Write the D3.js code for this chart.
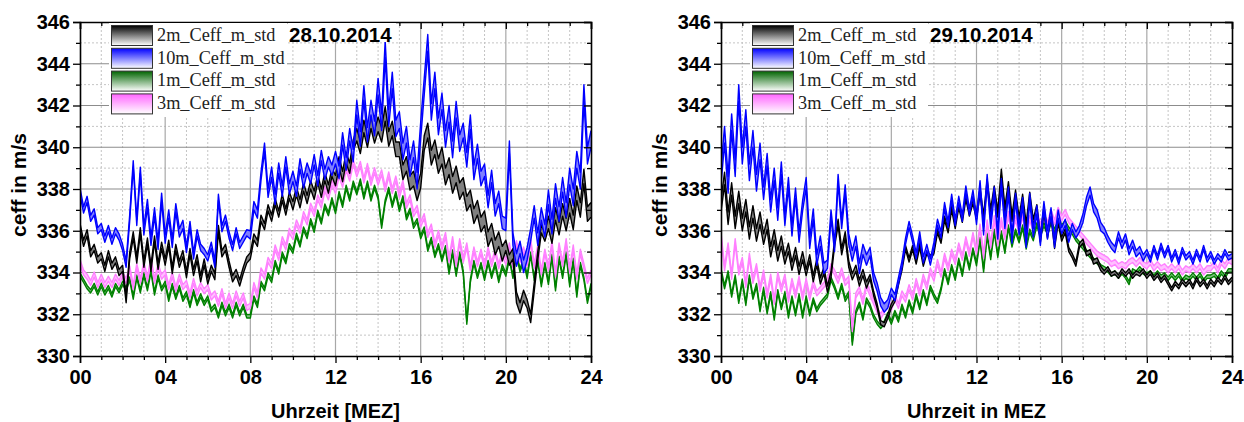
<!DOCTYPE html>
<html>
<head>
<meta charset="utf-8">
<script src="https://cdn.jsdelivr.net/npm/d3@7"></script>
<style>
  body { margin: 0; background: #fff; }
  svg { display: block; }
</style>
</head>
<body>
<svg id="chart" width="1244" height="422"></svg>
<script>
// Effective sound speed per measurement height, 10-minute means, 00:00 .. 24:00 (MEZ)
// each row holds one hour (six values), the last value is 24:00
const hours = d3.range(145).map(i => i / 6);

const yTickValues = [330, 332, 334, 336, 338, 340, 342, 344, 346];
const xTickValues = [0, 4, 8, 12, 16, 20, 24];
const xTickLabels = ["00", "04", "08", "12", "16", "20", "24"];
const seriesNames = ["2m_Ceff_m_std", "10m_Ceff_m_std", "1m_Ceff_m_std", "3m_Ceff_m_std"];
const dayTitles = ["28.10.2014", "29.10.2014"];
const xTitles = ["Uhrzeit [MEZ]", "Uhrzeit in MEZ"];
const yTitle = "ceff in m/s";

// ---- 28.10.2014 ----
const c10m_d1 = [
  337.9, 337.0, 337.5, 336.6, 336.9, 336.0,
  336.2, 335.6, 336.1, 335.5, 336.0, 335.7,
  335.2, 334.4, 336.6, 339.2, 336.4, 338.9,
  336.0, 337.3, 335.5, 336.9, 335.3, 337.6,
  335.6, 336.8, 335.4, 337.1, 335.9, 336.3,
  335.1, 336.3, 334.8, 335.9, 335.2, 335.0,
  334.7, 335.3, 334.4, 337.6, 336.1, 336.6,
  335.8, 335.2, 336.0, 335.3, 335.6, 335.9,
  335.8, 337.2, 336.8, 338.6, 340.0, 337.8,
  338.8, 337.5, 339.0, 337.9, 339.3, 338.0,
  338.6, 337.9, 339.2, 338.3, 339.0, 338.5,
  339.4, 338.4, 339.6, 338.7, 339.3, 338.9,
  339.5, 338.8, 340.4, 339.2, 340.6, 339.6,
  341.9, 340.4, 342.6, 340.6, 341.9, 340.9,
  342.9, 341.2, 344.7, 341.4, 343.2, 340.9,
  341.3, 339.8, 340.6, 339.0, 339.9, 338.4,
  340.8, 342.9, 345.0, 341.7, 343.2, 341.0,
  342.2, 340.4, 341.6, 339.9, 341.8, 340.2,
  340.8, 339.4, 341.2, 338.8, 339.8, 338.5,
  338.9, 337.4, 338.6, 337.0, 337.6, 336.4,
  336.3, 340.0, 335.6, 334.6, 335.2, 334.3,
  334.9, 335.8, 336.9, 335.6, 336.8, 336.0,
  337.6, 336.2, 337.9, 336.8, 338.2, 337.0,
  338.6, 337.6, 339.4, 338.4, 342.6, 339.6,
  340.4
];
const c2m_d1 = [
  336.2, 335.4, 335.9, 334.9, 335.2, 334.6,
  334.8, 334.2, 334.9, 334.3, 334.6, 334.0,
  334.2, 332.7, 334.8, 335.8, 334.6, 336.0,
  334.4, 335.5, 334.2, 335.6, 334.3, 335.3,
  334.5, 335.4, 334.1, 335.2, 334.4, 334.9,
  333.9, 335.0, 334.0, 334.7, 333.7, 334.5,
  333.6, 334.2, 333.8, 336.1, 334.9, 335.2,
  334.4, 333.7, 334.0, 333.5, 334.1, 334.6,
  334.8, 335.7, 335.4, 336.6, 336.2, 337.1,
  336.6, 337.4, 336.8, 337.6, 336.9, 337.7,
  337.2, 337.9, 337.3, 338.1, 337.5, 338.2,
  337.7, 338.5, 337.8, 338.6, 338.0, 338.8,
  338.4, 339.3, 338.6, 339.5, 339.0, 340.1,
  340.6, 340.0, 341.0, 340.3, 341.2, 340.5,
  341.1, 340.6, 341.6, 340.4, 340.9, 339.9,
  339.9, 338.8, 339.2, 338.3, 338.5, 337.8,
  338.4, 340.2, 340.8, 339.5, 340.0, 339.1,
  339.6, 338.6, 339.1, 338.2, 338.7, 337.9,
  338.2, 337.3, 337.6, 336.7, 337.1, 336.3,
  336.6, 335.6, 336.0, 335.2, 335.6, 334.9,
  335.3, 334.6, 334.9, 332.8, 332.3, 332.9,
  332.5, 331.8, 333.3, 334.8, 336.1, 335.7,
  336.4, 335.7, 336.8, 336.1, 337.0, 336.3,
  337.2, 336.4, 337.8, 337.0, 338.6, 336.8,
  337.0
];
const c3m_d1 = [
  334.5, 334.0, 333.8, 333.5, 333.9, 333.4,
  333.8, 333.4, 333.7, 333.4, 333.8, 333.5,
  333.9, 333.6, 334.2, 333.3, 334.3, 333.6,
  334.4, 333.7, 334.6, 333.6, 334.3, 333.8,
  334.0, 333.3, 333.9, 333.2, 333.8, 333.3,
  333.5, 332.9, 333.6, 333.0, 333.4, 333.1,
  333.3, 332.8, 333.0, 332.5, 333.1, 332.4,
  332.9, 332.4, 333.0, 332.5, 332.9, 332.3,
  332.4, 333.4, 332.9, 334.1, 333.8, 334.6,
  334.3, 335.2, 334.7, 335.6, 335.2, 336.0,
  335.7, 336.4, 336.0, 336.8, 336.4, 337.2,
  336.8, 337.6, 337.2, 338.0, 337.6, 338.3,
  337.9, 338.7, 338.2, 339.0, 338.5, 339.3,
  338.7, 339.2, 338.4, 339.1, 338.3, 338.9,
  338.3, 338.8, 338.0, 338.7, 337.9, 338.5,
  337.7, 338.3, 337.2, 337.6, 336.8, 337.1,
  336.3, 336.7, 335.8, 336.2, 335.3, 335.9,
  335.2, 335.8, 334.6, 335.6, 334.4, 335.5,
  334.6, 335.3, 334.2, 335.1, 334.4, 335.0,
  334.3, 335.1, 334.4, 335.0, 334.3, 334.9,
  334.5, 335.3, 334.3, 335.4, 334.6, 335.1,
  334.4, 335.5, 334.3, 335.2, 334.0, 335.0,
  334.2, 335.4, 333.9, 335.3, 334.4, 335.5,
  334.1, 335.2, 333.8, 335.0, 334.3, 333.6,
  334.0
];
const c1m_d1 = [
  333.9, 333.6, 333.3, 333.1, 333.4, 333.0,
  333.4, 333.0, 333.3, 332.9, 333.4, 333.1,
  333.5, 333.2, 333.7, 332.8, 333.8, 333.1,
  333.9, 333.2, 334.1, 333.0, 333.8, 333.2,
  333.5, 332.7, 333.4, 332.8, 333.3, 332.7,
  333.0, 332.4, 333.1, 332.5, 332.9, 332.5,
  332.8, 332.2, 332.4, 331.9, 332.5, 332.0,
  332.4, 331.9, 332.5, 332.0, 332.4, 331.9,
  331.9, 332.8, 332.4, 333.5, 333.2, 333.9,
  333.6, 334.5, 334.0, 334.9, 334.5, 335.3,
  335.0, 335.8, 335.3, 336.1, 335.7, 336.5,
  336.0, 336.9, 336.4, 337.2, 336.8, 337.5,
  336.9, 337.8, 337.2, 338.1, 337.5, 338.3,
  337.8, 338.4, 337.6, 338.3, 337.5, 338.1,
  337.6, 336.2, 337.4, 338.0, 337.2, 337.8,
  337.0, 337.6, 336.6, 337.0, 336.2, 336.5,
  335.7, 336.1, 335.1, 335.6, 334.8, 335.3,
  334.6, 335.2, 334.0, 335.0, 333.9, 334.9,
  334.0, 331.6, 333.6, 334.5, 333.8, 334.4,
  333.7, 334.5, 333.8, 334.4, 333.6, 334.3,
  333.9, 334.7, 333.8, 334.9, 334.1, 334.6,
  333.8, 334.9, 333.7, 334.6, 333.4, 334.4,
  333.5, 334.8, 333.2, 334.7, 333.8, 334.9,
  333.4, 334.6, 332.9, 334.4, 333.7, 332.6,
  333.4
];
// hourly standard deviations (hour 0 .. 24)
const s2m_d1 = [0.15,0.15,0.15,0.15,0.15,0.15,0.15,0.15,0.15,0.15,0.2,0.2,0.25,0.3,0.35,0.35,0.35,0.4,0.35,0.35,0.25,0.2,0.3,0.35,0.35];
const s10m_d1 = [0.15,0.15,0.15,0.2,0.2,0.15,0.15,0.15,0.2,0.25,0.25,0.25,0.3,0.35,0.4,0.4,0.4,0.4,0.35,0.3,0.3,0.3,0.35,0.4,0.4];

// ---- 29.10.2014 ----
const c10m_d2 = [
  338.6, 340.6, 338.2, 341.2, 339.0, 342.6,
  339.6, 341.4, 338.8, 340.4, 338.3, 339.8,
  337.8, 339.4, 337.2, 338.7, 336.8, 339.0,
  336.5, 338.3, 336.0, 337.8, 335.7, 337.2,
  338.3, 335.4, 336.8, 334.6, 335.5, 334.2,
  334.4, 336.8, 335.2, 338.5, 336.3, 338.0,
  335.6, 334.8, 335.5, 334.2, 335.1, 334.6,
  335.0, 333.8, 333.3, 332.6, 332.3, 332.5,
  333.1, 332.8, 333.6, 334.4, 335.5, 336.3,
  335.6, 334.8, 335.8, 334.6, 335.2, 334.5,
  335.3, 336.4, 335.8, 337.2, 336.3, 337.6,
  336.4, 337.5, 336.6, 338.0, 336.9, 337.8,
  336.5, 338.2, 336.0, 338.5, 336.3, 337.9,
  335.8, 338.3, 336.3, 337.9, 335.6, 337.6,
  336.0, 337.4, 335.4, 337.6, 335.9, 337.0,
  335.5, 337.2, 335.8, 336.9, 335.4, 336.8,
  336.0, 336.4, 335.6, 336.2, 335.8, 336.1,
  336.6, 337.4, 337.9, 337.1, 336.8, 336.2,
  336.0, 335.6, 335.3, 335.1, 335.8, 335.3,
  335.7, 335.0, 335.4, 334.9, 335.1, 334.7,
  335.0, 334.6, 335.2, 334.7, 335.3, 334.8,
  335.2, 334.6, 335.0, 334.5, 335.1, 334.7,
  334.9, 334.5, 335.0, 334.6, 335.2, 334.6,
  334.9, 334.5, 334.8, 334.6, 335.0, 334.7,
  334.8
];
const c2m_d2 = [
  337.2, 338.5, 336.6, 338.0, 336.4, 337.6,
  336.3, 337.2, 335.9, 336.9, 335.8, 336.6,
  335.6, 336.3, 335.0, 335.8, 334.8, 335.5,
  334.6, 335.2, 334.3, 335.0, 334.1, 334.8,
  334.0, 334.7, 333.7, 334.5, 333.6, 334.1,
  333.2, 333.9, 335.4, 336.4, 335.0, 335.8,
  334.4, 333.8, 334.2, 333.5, 334.0, 333.4,
  333.8, 333.0, 332.4, 331.6, 331.5, 331.9,
  332.4, 332.7, 333.5, 334.2, 335.2, 334.6,
  335.2, 334.5, 335.3, 334.4, 335.0, 334.7,
  335.0, 336.0, 335.5, 336.6, 336.0, 337.1,
  336.2, 337.2, 336.5, 337.6, 336.8, 337.4,
  336.7, 337.9, 336.6, 338.3, 336.9, 338.0,
  336.8, 338.8, 337.0, 338.2, 336.6, 337.8,
  336.5, 337.6, 336.2, 337.7, 336.4, 337.1,
  335.6, 337.0, 335.8, 336.8, 335.3, 336.5,
  335.6, 336.0, 335.1, 334.8, 334.4, 335.3,
  335.5, 334.9, 335.0, 334.5, 334.6, 334.2,
  334.0, 334.2, 333.9, 334.0, 333.8, 334.1,
  333.9, 334.1, 333.8, 334.0, 333.9, 334.1,
  333.8, 334.0, 333.7, 333.9, 333.6, 333.8,
  333.5, 333.2, 333.5, 333.3, 333.6, 333.4,
  333.6, 333.3, 333.7, 333.4, 333.6, 333.3,
  333.6, 333.4, 333.7, 333.5, 333.8, 333.5,
  333.7
];
const c3m_d2 = [
  335.8, 334.2, 335.3, 333.8, 335.5, 334.0,
  334.6, 333.4, 334.8, 333.6, 334.3, 333.2,
  334.0, 332.9, 333.8, 332.6, 333.9, 333.2,
  333.8, 332.7, 333.6, 332.9, 333.7, 332.8,
  333.6, 332.8, 333.5, 333.0, 333.2, 333.4,
  333.6, 334.3, 334.0, 333.6, 334.1, 333.5,
  333.7, 331.3, 332.9, 333.2, 332.6, 333.4,
  333.0, 332.6, 332.2, 331.9, 332.2, 332.6,
  332.3, 332.8, 332.4, 333.0, 332.7, 333.3,
  332.8, 333.6, 333.0, 333.8, 333.3, 334.1,
  333.7, 334.5, 333.9, 334.8, 334.2, 335.0,
  334.5, 335.3, 334.7, 335.6, 334.9, 335.8,
  335.0, 336.2, 334.8, 336.4, 335.3, 336.6,
  335.4, 336.5, 335.7, 336.8, 335.9, 336.6,
  336.0, 336.8, 335.8, 336.6, 336.1, 336.9,
  336.2, 336.7, 336.3, 336.9, 336.4, 337.0,
  336.6, 336.9, 336.5, 336.3, 336.1, 335.9,
  335.7, 335.5, 335.3, 335.1, 334.9, 334.8,
  334.7, 334.6, 334.4, 334.5, 334.3, 334.4,
  334.3, 334.5, 334.6, 334.4, 334.6, 334.4,
  334.3, 334.5, 334.2, 334.4, 334.2, 334.3,
  334.1, 334.3, 334.1, 334.3, 334.0, 334.2,
  334.1, 334.3, 334.1, 334.3, 334.0, 334.2,
  334.2, 334.4, 334.1, 334.5, 334.3, 334.6,
  334.5
];
const c1m_d2 = [
  334.1, 333.3, 334.0, 332.9, 333.8, 332.6,
  333.6, 332.5, 333.8, 332.8, 333.4, 332.2,
  333.2, 332.1, 333.0, 331.8, 333.1, 332.3,
  333.0, 331.9, 332.8, 332.0, 332.9, 331.9,
  332.8, 332.0, 332.7, 332.2, 332.5, 332.7,
  332.9, 333.7, 333.3, 332.8, 333.4, 332.7,
  333.0, 330.6, 332.1, 332.5, 331.8, 332.7,
  332.4, 331.9, 331.6, 331.4, 331.6, 332.0,
  331.6, 332.1, 331.7, 332.4, 331.9, 332.6,
  332.1, 332.9, 332.3, 333.1, 332.5, 333.3,
  332.9, 332.6, 333.2, 334.1, 333.5, 334.3,
  333.7, 334.6, 333.9, 334.9, 334.2, 335.1,
  334.4, 335.6, 334.1, 335.8, 334.7, 336.0,
  334.8, 335.9, 335.0, 336.2, 335.3, 336.0,
  335.5, 336.2, 335.2, 336.0, 335.6, 336.3,
  335.8, 336.3, 335.9, 336.4, 336.0, 336.5,
  336.2, 336.4, 336.1, 335.9, 335.6, 335.4,
  335.2, 335.0, 334.8, 334.6, 334.5, 334.3,
  334.2, 334.1, 333.9, 334.0, 333.8, 334.0,
  333.8, 333.5, 334.1, 334.0, 334.2, 334.0,
  333.9, 334.0, 333.8, 334.0, 333.8, 333.9,
  333.7, 333.9, 333.7, 333.9, 333.6, 333.8,
  333.7, 333.9, 333.7, 333.9, 333.6, 333.8,
  333.8, 333.9, 333.7, 334.0, 333.8, 334.1,
  334.1
];
const s2m_d2 = [0.3,0.3,0.25,0.2,0.15,0.15,0.15,0.1,0.1,0.1,0.1,0.1,0.15,0.15,0.15,0.15,0.1,0.1,0.08,0.08,0.08,0.08,0.08,0.08,0.08];
const s10m_d2 = [0.4,0.4,0.3,0.25,0.25,0.2,0.25,0.2,0.15,0.15,0.15,0.15,0.2,0.2,0.2,0.2,0.15,0.2,0.15,0.15,0.1,0.1,0.1,0.1,0.1];
// the 1 m and 3 m stations scatter little over the day
const s1m = 0.08;
const s3m = 0.12;

const lineColors = ["#000000", "#0000ff", "#008000", "#ff80ff"];
const fillColors = ["#808080", "#8080ff", "#80c080", "#ffc0ff"];
const swatchTop = ["#000000", "#0000ff", "#006400", "#ff66ff"];

const svg = d3.select("#chart");
const defs = svg.append("defs");
swatchTop.forEach((c, i) => {
  const g = defs.append("linearGradient").attr("id", "sw" + i)
    .attr("x1", 0).attr("y1", 0).attr("x2", 0).attr("y2", 1);
  g.append("stop").attr("offset", "0%").attr("stop-color", c);
  g.append("stop").attr("offset", "100%").attr("stop-color", "#ffffff");
});

const plotTop = 22, plotBottom = 356;
const sansBold = "'Liberation Sans', Arial, sans-serif";

function panel(idx, left, right, series) {
  const x = d3.scaleLinear().domain([0, 24]).range([left, right]);
  const y = d3.scaleLinear().domain([330, 346]).range([plotBottom, plotTop]);
  const g = svg.append("g");

  defs.append("clipPath").attr("id", "clip" + idx)
    .append("rect").attr("x", left).attr("y", plotTop)
    .attr("width", right - left).attr("height", plotBottom - plotTop);

  // grid: dotted minor lines, solid major lines
  const minorY = d3.range(331, 346, 2);
  const minorX = d3.range(1, 24).filter(h => h % 4 !== 0);
  const grid = g.append("g");
  minorY.forEach(v => grid.append("line")
    .attr("x1", left).attr("x2", right).attr("y1", y(v)).attr("y2", y(v))
    .attr("stroke", "#c4c4c4").attr("stroke-dasharray", "2,2"));
  minorX.forEach(h => grid.append("line")
    .attr("x1", x(h)).attr("x2", x(h)).attr("y1", plotTop).attr("y2", plotBottom)
    .attr("stroke", "#c4c4c4").attr("stroke-dasharray", "2,2"));
  yTickValues.slice(1, -1).forEach(v => grid.append("line")
    .attr("x1", left).attr("x2", right).attr("y1", y(v)).attr("y2", y(v))
    .attr("stroke", "#8c8c8c").attr("stroke-width", 1.2));
  xTickValues.slice(1, -1).forEach(h => grid.append("line")
    .attr("x1", x(h)).attr("x2", x(h)).attr("y1", plotTop).attr("y2", plotBottom)
    .attr("stroke", "#a8a8a8").attr("stroke-width", 1.2));

  // series: std band with upper/lower edge lines
  const plot = g.append("g").attr("clip-path", `url(#clip${idx})`);
  const drawOrder = [2, 3, 0, 1];
  drawOrder.forEach(k => {
    const s = series[k];
    const pts = hours.map((h, i) => ({
      h, v: s.values[i],
      sd: Array.isArray(s.std) ? s.std[Math.floor(h)] : s.std
    }));
    plot.append("path").datum(pts)
      .attr("fill", fillColors[k])
      .attr("d", d3.area().x(d => x(d.h)).y0(d => y(d.v - d.sd)).y1(d => y(d.v + d.sd)));
    [-1, 1].forEach(sign => plot.append("path").datum(pts)
      .attr("fill", "none").attr("stroke", lineColors[k]).attr("stroke-width", 1.4)
      .attr("stroke-linejoin", "round")
      .attr("d", d3.line().x(d => x(d.h)).y(d => y(d.v + sign * d.sd))));
  });

  // axes
  const styleAxis = a => {
    a.selectAll("path.domain").attr("stroke", "#000").attr("stroke-width", 1.6);
    a.selectAll(".tick line").attr("stroke", "#000").attr("stroke-width", 1.3);
  };

  const yl = g.append("g").attr("transform", `translate(${left},0)`)
    .call(d3.axisLeft(y).tickValues(yTickValues).tickSize(7).tickPadding(3).tickFormat(d3.format("d")));
  styleAxis(yl);
  yl.selectAll("text").attr("font-family", sansBold).attr("font-weight", "bold")
    .attr("font-size", 20).attr("fill", "#000");
  g.append("g").attr("transform", `translate(${left},0)`)
    .call(d3.axisLeft(y).tickValues(minorY).tickSize(4).tickFormat(""))
    .call(styleAxis).select("path.domain").remove();

  const yr = g.append("g").attr("transform", `translate(${right},0)`)
    .call(d3.axisRight(y).tickValues(yTickValues).tickSize(-7).tickFormat(""));
  styleAxis(yr);
  g.append("g").attr("transform", `translate(${right},0)`)
    .call(d3.axisRight(y).tickValues(minorY).tickSize(-4).tickFormat(""))
    .call(styleAxis).select("path.domain").remove();

  const xb = g.append("g").attr("transform", `translate(0,${plotBottom})`)
    .call(d3.axisBottom(x).tickValues(xTickValues).tickSize(7).tickPadding(7)
      .tickFormat((d, i) => xTickLabels[i]));
  styleAxis(xb);
  xb.selectAll("text").attr("font-family", sansBold).attr("font-weight", "bold")
    .attr("font-size", 20).attr("fill", "#000");
  g.append("g").attr("transform", `translate(0,${plotBottom})`)
    .call(d3.axisBottom(x).tickValues(minorX).tickSize(4).tickFormat(""))
    .call(styleAxis).select("path.domain").remove();

  const xt = g.append("g").attr("transform", `translate(0,${plotTop})`)
    .call(d3.axisTop(x).tickValues(xTickValues).tickSize(-7).tickFormat(""));
  styleAxis(xt);
  g.append("g").attr("transform", `translate(0,${plotTop})`)
    .call(d3.axisTop(x).tickValues(minorX).tickSize(-4).tickFormat(""))
    .call(styleAxis).select("path.domain").remove();

  // axis titles
  g.append("text").attr("x", (left + right) / 2).attr("y", 418)
    .attr("text-anchor", "middle").attr("font-family", sansBold)
    .attr("font-weight", "bold").attr("font-size", 20).text(xTitles[idx]);
  g.append("text").attr("transform", `translate(${left - 54},185) rotate(-90)`)
    .attr("text-anchor", "middle").attr("font-family", sansBold)
    .attr("font-weight", "bold").attr("font-size", 21).text(yTitle);

  // legend
  const lg = g.append("g");
  lg.append("rect").attr("x", left + 29).attr("y", plotTop + 1).attr("width", 178).attr("height", 94)
    .attr("fill", "#fff");
  seriesNames.forEach((name, i) => {
    lg.append("rect").attr("x", left + 31.5).attr("y", 25.5 + i * 22.8)
      .attr("width", 41).attr("height", 20)
      .attr("fill", `url(#sw${i})`).attr("stroke", "#333").attr("stroke-width", 1);
    lg.append("text").attr("x", left + 77).attr("y", 40.7 + i * 22.8)
      .attr("font-family", "'Liberation Serif', 'Times New Roman', serif")
      .attr("font-size", 18.3).attr("fill", "#222").text(name);
  });

  // date caption
  lg.append("rect").attr("x", left + 208).attr("y", plotTop + 1).attr("width", 108).attr("height", 19)
    .attr("fill", "#fff");
  g.append("text").attr("x", left + 209).attr("y", 41.5)
    .attr("font-family", sansBold).attr("font-weight", "bold").attr("font-size", 20.5)
    .text(dayTitles[idx]);
}

panel(0, 80, 591, [
  { values: c2m_d1, std: s2m_d1 },
  { values: c10m_d1, std: s10m_d1 },
  { values: c1m_d1, std: s1m },
  { values: c3m_d1, std: s3m }
]);
panel(1, 721, 1232, [
  { values: c2m_d2, std: s2m_d2 },
  { values: c10m_d2, std: s10m_d2 },
  { values: c1m_d2, std: s1m },
  { values: c3m_d2, std: s3m }
]);
</script>
</body>
</html>
